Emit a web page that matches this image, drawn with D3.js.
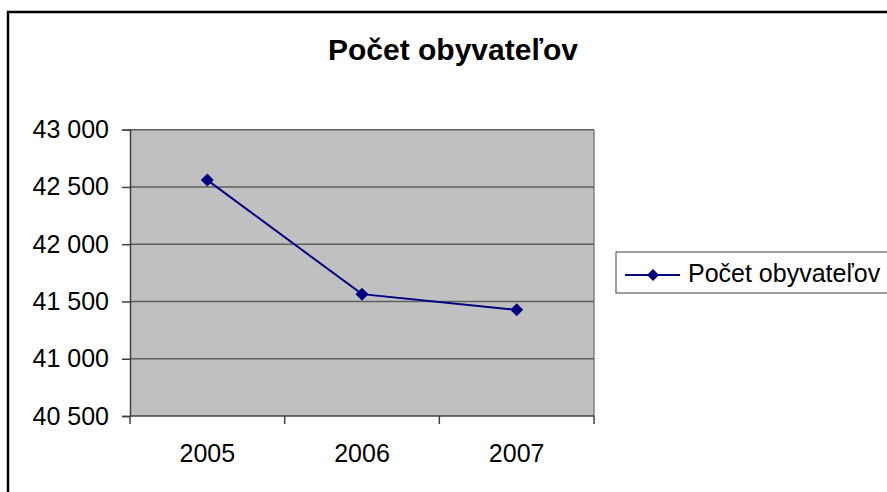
<!DOCTYPE html>
<html>
<head>
<meta charset="utf-8">
<script src="https://cdn.jsdelivr.net/npm/d3@7"></script>
<style>
  html, body { margin: 0; padding: 0; background: #fff; }
  svg { display: block; font-family: "Liberation Sans", Arial, sans-serif; }
</style>
</head>
<body>
<div id="chart"></div>
<script>
// Data
const years = ["2005", "2006", "2007"];
const population = [42560, 41564, 41427];
const yTicks = [40500, 41000, 41500, 42000, 42500, 43000];
const title = "Počet obyvateľov";
const seriesName = "Počet obyvateľov";

const width = 887, height = 492;
const plot = { left: 130, right: 594, top: 129.7, bottom: 416 };
const navy = "#000080";

const locale = d3.formatLocale({ decimal: ",", thousands: " ", grouping: [3], currency: ["", ""] });
const fmt = locale.format(",d");

const svg = d3.select("#chart").append("svg")
  .attr("width", width)
  .attr("height", height);

// Outer chart border (only top and left edges are inside the picture)
svg.append("rect")
  .attr("x", 8).attr("y", 12)
  .attr("width", width + 20).attr("height", height + 20)
  .attr("fill", "#fff")
  .attr("stroke", "#000")
  .attr("stroke-width", 2.5);

svg.append("text")
  .attr("x", 453).attr("y", 60)
  .attr("text-anchor", "middle")
  .attr("font-size", 30)
  .attr("font-weight", "bold")
  .text(title);

// Scales
const x = d3.scaleBand().domain(years).range([plot.left, plot.right]).padding(0);
const y = d3.scaleLinear().domain([40500, 43000]).range([plot.bottom, plot.top]);

// Plot area
svg.append("rect")
  .attr("x", plot.left).attr("y", plot.top)
  .attr("width", plot.right - plot.left).attr("height", plot.bottom - plot.top)
  .attr("fill", "#c0c0c0");

svg.append("line")
  .attr("x1", plot.right).attr("x2", plot.right)
  .attr("y1", plot.top).attr("y2", plot.bottom)
  .attr("stroke", "#808080").attr("stroke-width", 1.5);

// Gridlines
svg.append("g")
  .selectAll("line")
  .data(yTicks.slice(1))
  .join("line")
  .attr("x1", plot.left).attr("x2", plot.right)
  .attr("y1", (d) => y(d)).attr("y2", (d) => y(d))
  .attr("stroke", "#5f5f5f").attr("stroke-width", 1.5);

// Y axis
const yAxis = svg.append("g")
  .attr("transform", `translate(${plot.left},0)`)
  .call(d3.axisLeft(y).tickValues(yTicks).tickFormat(fmt).tickSize(8).tickPadding(13));
yAxis.select(".domain").attr("stroke", "#404040").attr("stroke-width", 1.5);
yAxis.selectAll(".tick line").attr("stroke", "#404040").attr("stroke-width", 1.5);
yAxis.selectAll(".tick text")
  .attr("font-size", 25)
  .attr("font-family", "Liberation Sans, Arial, sans-serif")
  .attr("fill", "#000");

// X axis (ticks between categories)
const xAxis = svg.append("g")
  .attr("transform", `translate(0,${plot.bottom})`);
xAxis.append("line")
  .attr("x1", plot.left).attr("x2", plot.right)
  .attr("stroke", "#404040").attr("stroke-width", 1.5);
const edges = years.map((d) => x(d)).concat([x(years[years.length - 1]) + x.bandwidth()]);
xAxis.selectAll(".xtick")
  .data(edges)
  .join("line")
  .attr("class", "xtick")
  .attr("x1", (d) => d).attr("x2", (d) => d)
  .attr("y1", 0).attr("y2", 8)
  .attr("stroke", "#404040").attr("stroke-width", 1.5);
xAxis.selectAll(".xlabel")
  .data(years)
  .join("text")
  .attr("class", "xlabel")
  .attr("x", (d) => x(d) + x.bandwidth() / 2)
  .attr("y", 46)
  .attr("text-anchor", "middle")
  .attr("font-size", 25)
  .text((d) => d);

// Series line
const pts = years.map((d, i) => [x(d) + x.bandwidth() / 2, y(population[i])]);
svg.append("path")
  .datum(pts)
  .attr("d", d3.line())
  .attr("fill", "none")
  .attr("stroke", navy)
  .attr("stroke-width", 2);

const diamond = (r) => `M0,${-r}L${r},0L0,${r}L${-r},0Z`;
svg.append("g")
  .selectAll("path")
  .data(pts)
  .join("path")
  .attr("transform", (d) => `translate(${d[0]},${d[1]})`)
  .attr("d", diamond(6.5))
  .attr("fill", navy);

// Legend
const legend = svg.append("g");
legend.append("rect")
  .attr("x", 616).attr("y", 252)
  .attr("width", 290).attr("height", 41)
  .attr("fill", "#fff")
  .attr("stroke", "#404040").attr("stroke-width", 1);
legend.append("line")
  .attr("x1", 625).attr("x2", 680)
  .attr("y1", 275).attr("y2", 275)
  .attr("stroke", navy).attr("stroke-width", 2);
legend.append("path")
  .attr("transform", "translate(653,275)")
  .attr("d", diamond(6))
  .attr("fill", navy);
legend.append("text")
  .attr("x", 688).attr("y", 282)
  .attr("font-size", 25)
  .text(seriesName);
</script>
</body>
</html>
